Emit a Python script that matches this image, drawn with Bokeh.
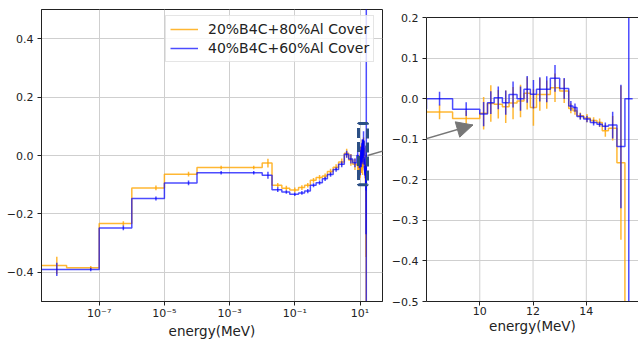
import math
from bokeh.plotting import figure
from bokeh.layouts import row
from bokeh.models import (FixedTicker, CustomJSTickFormatter, Range1d, BoxAnnotation,
                          PolyAnnotation, Arrow, NormalHead, Legend, LegendItem, Span)
from bokeh.embed import file_html
from bokeh.resources import INLINE

# ---------------- data ----------------
edges = [1e-11, 1e-8, 1e-7, 1e-6, 1e-5, 1e-4, 1e-3, 1e-2, 0.02, 0.04, 0.07, 0.13, 0.2,
         0.3, 0.45, 0.7, 1.0, 1.5, 2.2, 3.3, 4.5, 6.0, 8.0, 8.98, 10.0, 10.29, 10.54,
         10.85, 11.1, 11.4, 11.66, 11.9, 12.13, 12.38, 12.65, 13.0, 13.34, 13.5, 13.65,
         13.9, 14.15, 14.4, 14.6, 14.83, 15.15, 15.45, 15.74]
orange_vals = [-0.377, -0.384, -0.233, -0.111, -0.064, -0.041, -0.041, -0.026, -0.102,
               -0.112, -0.118, -0.110, -0.102, -0.085, -0.075, -0.070, -0.055, -0.040,
               -0.022, 0.008, -0.015, -0.030, -0.033, -0.049, -0.036, -0.012, -0.014,
               -0.020, -0.011, -0.006, 0.013, -0.022, 0.010, 0.010, 0.027, 0.019, -0.024,
               -0.030, -0.042, -0.048, -0.054, -0.059, -0.079, -0.073, -0.158, -0.900]
orange_err = [0.030, 0.006, 0.008, 0.008, 0.008, 0.006, 0.006, 0.015, 0.008, 0.008,
              0.008, 0.008, 0.008, 0.008, 0.008, 0.008, 0.010, 0.010, 0.012, 0.015,
              0.020, 0.020, 0.018, 0.020, 0.040, 0.045, 0.035, 0.040, 0.040, 0.040,
              0.040, 0.045, 0.040, 0.035, 0.035, 0.030, 0.012, 0.010, 0.008, 0.010,
              0.008, 0.010, 0.015, 0.030, 0.190, 0.400]
blue_vals = [-0.390, -0.390, -0.248, -0.147, -0.094, -0.059, -0.059, -0.068, -0.117,
             -0.125, -0.133, -0.128, -0.122, -0.102, -0.093, -0.080, -0.065, -0.048,
             -0.030, 0.004, -0.012, -0.025, 0.000, -0.026, -0.038, -0.010, 0.002,
             -0.010, 0.010, 0.000, 0.023, 0.011, 0.023, 0.023, 0.050, 0.025, -0.018,
             -0.022, -0.044, -0.050, -0.059, -0.063, -0.068, -0.065, -0.118, 0.000]
blue_err = [0.023, 0.006, 0.008, 0.007, 0.008, 0.006, 0.006, 0.012, 0.008, 0.006,
            0.006, 0.006, 0.007, 0.007, 0.007, 0.007, 0.008, 0.008, 0.010, 0.012,
            0.015, 0.015, 0.017, 0.017, 0.030, 0.028, 0.028, 0.030, 0.032, 0.030,
            0.033, 0.035, 0.030, 0.032, 0.033, 0.026, 0.012, 0.010, 0.008, 0.008,
            0.007, 0.006, 0.009, 0.033, 0.152, 0.700]
series_labels = ["20%B4C+80%Al Cover", "40%B4C+60%Al Cover"]
x_label = "energy(MeV)"
left_xticks = [1e-7, 1e-5, 1e-3, 1e-1, 1e1]
left_yticks = [-0.4, -0.2, 0.0, 0.2, 0.4]
right_xticks = [10, 12, 14]
right_yticks = [-0.5, -0.4, -0.3, -0.2, -0.1, 0.0, 0.1, 0.2]
zoom_box_energy = [9.0, 17.0]
zoom_box_value = [-0.1, 0.11]
arrow_from = [17.0, 0.0]      # left-axes data
arrow_to = [9.74, -0.065]     # right-axes data

# ---------------- style / layout ----------------
ORANGE = "#FFA500"
BLUE = "#0000FF"
FONT = "DejaVu Sans"
AX = "#222222"
GRID = "#cfcfcf"
ARROW = "#777777"

H = 341
TOP, BOTTOM = 9, 40
FH = H - TOP - BOTTOM            # 292
LW = 388
L_B, L_FW = 41, 341
L_XR = (-8.77, 1.69)             # log10 limits
L_YR = (-0.5, 0.5)
RW = 638 - LW
R_B = 37
R_FW = RW - R_B
R_XR = (8.0, 15.96)
R_YLIM = (-0.5, 0.2)             # visible axes box of the zoom panel
R_TOP_GAP = 8                    # zoom panel box starts 8px lower
R_YMAX = R_YLIM[1] + R_TOP_GAP * (R_YLIM[1] - R_YLIM[0]) / (FH - R_TOP_GAP)

mids = [(a + b) / 2 for a, b in zip(edges[:-1], edges[1:])]


def fmt_y():
    return CustomJSTickFormatter(code="return tick.toFixed(1).replace('-', '\u2212');")


def style(p):
    p.background_fill_color = "white"
    p.border_fill_color = "white"
    p.outline_line_color = AX
    p.outline_line_width = 1
    for ax in (p.xaxis[0], p.yaxis[0]):
        ax.axis_line_color = AX
        ax.major_tick_line_color = AX
        ax.major_tick_out = 4
        ax.major_tick_in = 0
        ax.minor_tick_line_color = None
        ax.major_label_text_font = FONT
        ax.major_label_text_font_size = "11px"
        ax.major_label_text_color = AX
        ax.major_label_standoff = 4
    p.xaxis.major_label_standoff = 1
    p.xaxis.axis_label = x_label
    p.xaxis.axis_label_text_font = FONT
    p.xaxis.axis_label_text_font_size = "13.5px"
    p.xaxis.axis_label_text_font_style = "normal"
    p.xaxis.axis_label_text_color = AX
    p.xaxis.axis_label_standoff = 0
    p.xgrid.grid_line_color = GRID
    p.ygrid.grid_line_color = GRID


def draw(p, ymax=None):
    def top(v, e):
        t = v + e
        return min(t, ymax) if ymax is not None else t
    ro = p.step(x=edges, y=orange_vals + [orange_vals[-1]], mode="after",
                line_color=ORANGE, line_width=1.5, line_alpha=0.8)
    p.segment(x0=mids, x1=mids, y0=[v - e for v, e in zip(orange_vals, orange_err)],
              y1=[top(v, e) for v, e in zip(orange_vals, orange_err)],
              line_color=ORANGE, line_width=1.5, line_alpha=0.8)
    rb = p.step(x=edges, y=blue_vals + [blue_vals[-1]], mode="after",
                line_color=BLUE, line_width=1.5, line_alpha=0.7)
    p.segment(x0=mids, x1=mids, y0=[v - e for v, e in zip(blue_vals, blue_err)],
              y1=[top(v, e) for v, e in zip(blue_vals, blue_err)],
              line_color=BLUE, line_width=1.5, line_alpha=0.7)
    return ro, rb


# pixel <-> data mappings (for the connector arrow across both panels)
def l_px(E):
    return L_B + (math.log10(E) - L_XR[0]) * L_FW / (L_XR[1] - L_XR[0])


def l_py(v):
    return TOP + (L_YR[1] - v) * FH / (L_YR[1] - L_YR[0])


def l_inv(px, py):
    e = L_XR[0] + (px - L_B) * (L_XR[1] - L_XR[0]) / L_FW
    v = L_YR[1] - (py - TOP) * (L_YR[1] - L_YR[0]) / FH
    return 10 ** e, v


def r_px(E):
    return LW + R_B + (E - R_XR[0]) * R_FW / (R_XR[1] - R_XR[0])


def r_py(v):
    return TOP + (R_YMAX - v) * FH / (R_YMAX - R_YLIM[0])


def r_inv(px, py):
    E = R_XR[0] + (px - LW - R_B) * (R_XR[1] - R_XR[0]) / R_FW
    v = R_YMAX - (py - TOP) * (R_YMAX - R_YLIM[0]) / FH
    return E, v


# ---------------- left panel ----------------
p1 = figure(width=LW, height=H, x_axis_type="log", title_location=None,
            x_range=Range1d(10 ** L_XR[0], 10 ** L_XR[1]), y_range=Range1d(*L_YR),
            output_backend="svg", toolbar_location=None,
            min_border_left=L_B, min_border_right=LW - L_B - L_FW,
            min_border_top=TOP, min_border_bottom=BOTTOM)
style(p1)
p1.xaxis.ticker = FixedTicker(ticks=left_xticks)
p1.xaxis.formatter = CustomJSTickFormatter(code="""
const sup = {'-':'\u207b','0':'\u2070','1':'\u00b9','2':'\u00b2','3':'\u00b3','4':'\u2074',
             '5':'\u2075','6':'\u2076','7':'\u2077','8':'\u2078','9':'\u2079'};
const e = Math.round(Math.log10(tick));
return '10' + String(e).split('').map(c => sup[c]).join('');
""")
p1.yaxis.ticker = FixedTicker(ticks=left_yticks)
p1.yaxis.formatter = fmt_y()
ro, rb = draw(p1)

legend = Legend(items=[LegendItem(label=series_labels[0], renderers=[ro]),
                       LegendItem(label=series_labels[1], renderers=[rb])],
                location=(124, 239), label_text_font=FONT, label_text_font_size="14px",
                label_text_color=AX, glyph_width=28, glyph_height=18, label_height=18,
                spacing=1, padding=4, margin=0, label_standoff=10,
                border_line_color="#cccccc", background_fill_alpha=0.8)
p1.add_layout(legend)

p1.add_layout(BoxAnnotation(left=zoom_box_energy[0], right=zoom_box_energy[1],
                            bottom=zoom_box_value[0], top=zoom_box_value[1],
                            fill_alpha=0, line_color="#2b4f85", line_alpha=1.0,
                            line_width=3, line_dash="10 4"))

# connector arrow geometry
sx, sy = l_px(arrow_from[0]), l_py(arrow_from[1])
tx, ty = r_px(arrow_to[0]), r_py(arrow_to[1])
tip_in_left = l_inv(tx, ty)
start_in_right = r_inv(sx, sy)
p1.add_layout(PolyAnnotation(xs=[arrow_from[0], tip_in_left[0], arrow_from[0]],
                             ys=[arrow_from[1], tip_in_left[1], arrow_from[1]],
                             fill_alpha=0, line_color=ARROW, line_alpha=1.0, line_width=1.5))

# ---------------- right panel ----------------
p2 = figure(width=RW, height=H, x_range=Range1d(*R_XR),
            y_range=Range1d(R_YLIM[0], R_YMAX),
            title_location=None, output_backend="svg", toolbar_location=None,
            min_border_left=R_B, min_border_right=0,
            min_border_top=TOP, min_border_bottom=BOTTOM)
style(p2)
p2.outline_line_color = None
p2.xaxis.ticker = FixedTicker(ticks=right_xticks)
p2.yaxis.ticker = FixedTicker(ticks=right_yticks)
p2.yaxis.formatter = fmt_y()
p2.yaxis.bounds = R_YLIM
p2.xgrid.visible = False
p2.segment(x0=right_xticks, x1=right_xticks, y0=[R_YLIM[0]] * len(right_xticks),
           y1=[R_YLIM[1]] * len(right_xticks), line_color=GRID, line_width=1,
           level="underlay")
draw(p2, ymax=R_YLIM[1])
p2.add_layout(Span(location=R_YLIM[1], dimension="width", line_color=AX, line_width=1))

p2.add_layout(PolyAnnotation(xs=[start_in_right[0], arrow_to[0], start_in_right[0]],
                             ys=[start_in_right[1], arrow_to[1], start_in_right[1]],
                             fill_alpha=0, line_color=ARROW, line_alpha=1.0, line_width=1.5))
# arrow head
hx, hy = r_inv(tx - (tx - sx) * 0.15, ty - (ty - sy) * 0.15)
p2.add_layout(Arrow(x_start=hx, y_start=hy, x_end=arrow_to[0], y_end=arrow_to[1],
                    line_color=ARROW, line_width=1.5,
                    end=NormalHead(size=16, fill_color=ARROW, line_color=ARROW)))

layout = row(p1, p2)
open("out.html", "w").write(file_html(layout, INLINE))
